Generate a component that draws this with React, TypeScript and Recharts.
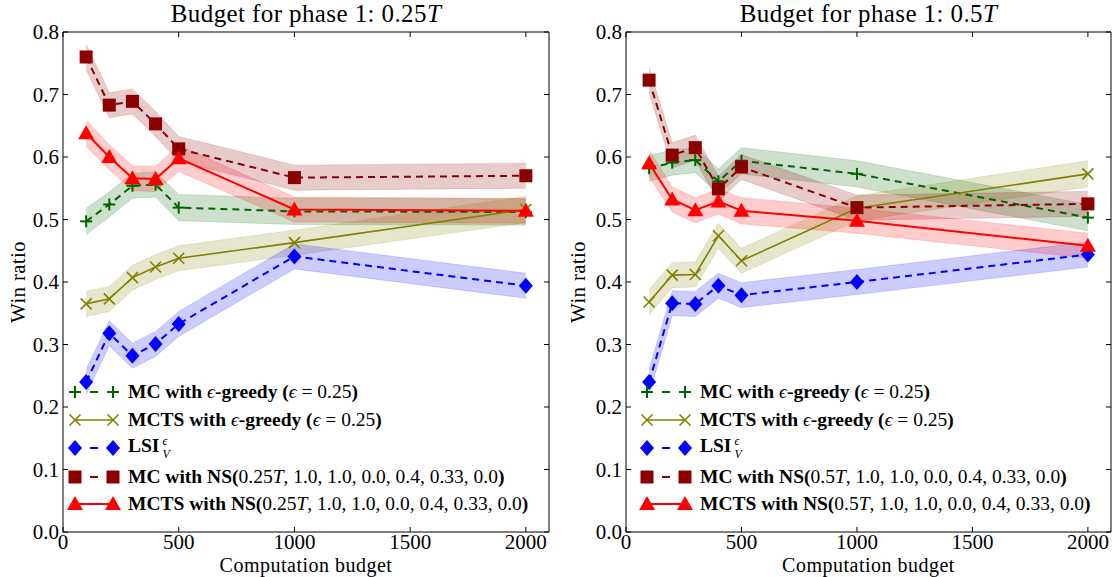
import React from "react";
import { ComposedChart, Line, Area, XAxis, YAxis } from "recharts";

const budget = [100, 200, 300, 400, 500, 1000, 2000];
const xTicks = [0, 500, 1000, 1500, 2000];
const yTicks = [0, 0.1, 0.2, 0.3, 0.4, 0.5, 0.6, 0.7, 0.8];

// phase 1 budget 0.25T
const mcEpsL = [0.497, 0.524, 0.554, 0.556, 0.519, 0.513, 0.512];
const mctsEpsL = [0.365, 0.373, 0.407, 0.424, 0.438, 0.463, 0.516];
const lsiL = [0.24, 0.318, 0.282, 0.301, 0.333, 0.441, 0.394];
const mcNsL = [0.76, 0.683, 0.689, 0.653, 0.613, 0.567, 0.57];
const mctsNsL = [0.638, 0.6, 0.566, 0.565, 0.598, 0.516, 0.514];

// phase 1 budget 0.5T
const mcEpsR = [0.582, 0.591, 0.595, 0.561, 0.594, 0.573, 0.503];
const mctsEpsR = [0.368, 0.411, 0.412, 0.474, 0.434, 0.518, 0.573];
const lsiR = [0.24, 0.366, 0.365, 0.394, 0.379, 0.4, 0.444];
const mcNsR = [0.723, 0.603, 0.615, 0.549, 0.584, 0.519, 0.525];
const mctsNsR = [0.59, 0.532, 0.515, 0.529, 0.514, 0.498, 0.458];

// half width of the shaded bands
const errMcEps = [0.021, 0.02, 0.02, 0.02, 0.021, 0.021, 0.021];
const errMctsEps = [0.02, 0.02, 0.02, 0.02, 0.02, 0.02, 0.021];
const errLsi = [0.02, 0.02, 0.02, 0.02, 0.02, 0.02, 0.02];
const errMcNs = [0.02, 0.02, 0.02, 0.02, 0.02, 0.02, 0.02];
const errMctsNs = [0.021, 0.02, 0.02, 0.02, 0.021, 0.02, 0.02];

const FONT = '"Liberation Serif", "DejaVu Serif", serif';

const series = [
  { key: "mcEps", color: "#006400", dash: "7 5", width: 2, marker: "plus", err: errMcEps },
  { key: "mctsEps", color: "#808000", dash: undefined, width: 1.6, marker: "x", err: errMctsEps },
  { key: "lsi", color: "#0000ff", dash: "7 5", width: 2, marker: "diamond", err: errLsi },
  { key: "mcNs", color: "#8b0000", dash: "7 5", width: 2, marker: "square", err: errMcNs },
  { key: "mctsNs", color: "#ff0000", dash: undefined, width: 2, marker: "triangle", err: errMctsNs },
];

function Marker({ type, cx, cy, color }: any) {
  if (cx == null || cy == null) return null;
  switch (type) {
    case "plus":
      return (
        <g stroke={color} strokeWidth={2}>
          <line x1={cx - 6} x2={cx + 6} y1={cy} y2={cy} />
          <line x1={cx} x2={cx} y1={cy - 6} y2={cy + 6} />
        </g>
      );
    case "x":
      return (
        <g stroke={color} strokeWidth={1.6}>
          <line x1={cx - 5.5} x2={cx + 5.5} y1={cy - 5.5} y2={cy + 5.5} />
          <line x1={cx - 5.5} x2={cx + 5.5} y1={cy + 5.5} y2={cy - 5.5} />
        </g>
      );
    case "diamond":
      return <polygon points={`${cx},${cy - 8} ${cx + 7},${cy} ${cx},${cy + 8} ${cx - 7},${cy}`} fill={color} />;
    case "square":
      return <rect x={cx - 6.5} y={cy - 6.5} width={13} height={13} fill={color} />;
    default:
      return <polygon points={`${cx},${cy - 8} ${cx + 8},${cy + 6} ${cx - 8},${cy + 6}`} fill={color} />;
  }
}

const BottomTick = ({ x, y, payload }: any) => (
  <g>
    <line x1={x} x2={x} y1={y} y2={y - 5} stroke="#000" />
    <text x={x} y={y + 17} textAnchor="middle" fontSize={21} fontFamily={FONT} fill="#000">
      {payload.value}
    </text>
  </g>
);
const TopTick = ({ x, y }: any) => <line x1={x} x2={x} y1={y} y2={y + 5} stroke="#000" />;
const LeftTick = ({ x, y, payload }: any) => (
  <g>
    <line x1={x} x2={x + 5} y1={y} y2={y} stroke="#000" />
    <text x={x - 4} y={y + 7} textAnchor="end" fontSize={21} fontFamily={FONT} fill="#000">
      {payload.value.toFixed(1)}
    </text>
  </g>
);
const RightTick = ({ x, y }: any) => <line x1={x} x2={x - 5} y1={y} y2={y} stroke="#000" />;

const Eps = () => <i style={{ fontWeight: "normal" }}>ϵ</i>;

function LegendRow({ s, top, left, children }: any) {
  return (
    <div style={{ position: "absolute", left, top: top - 14, height: 28, display: "flex", alignItems: "center", whiteSpace: "nowrap" }}>
      <svg width={52} height={28} style={{ overflow: "visible" }}>
        {s.dash ? (
          <line x1={22} x2={30} y1={14} y2={14} stroke={s.color} strokeWidth={s.width} />
        ) : (
          <line x1={7} x2={45} y1={14} y2={14} stroke={s.color} strokeWidth={s.width} />
        )}
        <Marker type={s.marker} cx={7} cy={14} color={s.color} />
        <Marker type={s.marker} cx={45} cy={14} color={s.color} />
      </svg>
      <span style={{ marginLeft: 8, fontSize: 19.5, fontWeight: "bold", fontFamily: FONT }}>{children}</span>
    </div>
  );
}

function Panel({ left, width, yAxisW, rightW, vals, frac, legendLeft }: any) {
  const data = budget.map((b, i) => {
    const row: any = { b };
    series.forEach((s, k) => {
      const v = vals[k][i];
      row[s.key] = v;
      row[s.key + "Band"] = [v - s.err[i], v + s.err[i]];
    });
    return row;
  });
  const plotLeft = left + yAxisW;
  const plotW = width - yAxisW - rightW;
  const cx = plotLeft + plotW / 2;
  const nsArgs = (
    <span style={{ fontWeight: "normal" }}>
      {frac}
      <i>T</i>, 1.0, 1.0, 0.0, 0.4, 0.33, 0.0
    </span>
  );
  const epsArgs = (
    <span style={{ fontWeight: "normal" }}>
      <i>ϵ</i> = 0.25
    </span>
  );
  return (
    <>
      <div style={{ position: "absolute", left, top: 0 }}>
        <ComposedChart width={width} height={577} data={data} margin={{ top: 0, right: 0, bottom: 0, left: 0 }}>
          <XAxis dataKey="b" type="number" domain={[0, 2100]} ticks={xTicks} allowDataOverflow height={45} tickSize={0} tickMargin={0} tick={<BottomTick />} axisLine={{ stroke: "#000" }} tickLine={false} interval={0} />
          <XAxis xAxisId="top" orientation="top" dataKey="b" type="number" domain={[0, 2100]} ticks={xTicks} allowDataOverflow height={32} tickSize={0} tickMargin={0} tick={<TopTick />} axisLine={{ stroke: "#000" }} tickLine={false} interval={0} />
          <YAxis type="number" domain={[0, 0.8]} ticks={yTicks} allowDataOverflow width={yAxisW} tickSize={0} tickMargin={0} tick={<LeftTick />} axisLine={{ stroke: "#000" }} tickLine={false} interval={0} />
          <YAxis yAxisId="right" orientation="right" type="number" domain={[0, 0.8]} ticks={yTicks} allowDataOverflow width={rightW} tickSize={0} tickMargin={0} tick={<RightTick />} axisLine={{ stroke: "#000" }} tickLine={false} interval={0} />
          {series.map((s) => [
            <Area
              key={s.key + "Band"}
              dataKey={s.key + "Band"}
              type="linear"
              fill={s.color}
              fillOpacity={0.2}
              stroke={s.color}
              strokeOpacity={0.15}
              strokeWidth={1}
              dot={false}
              activeDot={false}
              isAnimationActive={false}
            />,
            <Line
              key={s.key}
              dataKey={s.key}
              type="linear"
              stroke={s.color}
              strokeWidth={s.width}
              strokeDasharray={s.dash}
              dot={(p: any) => <Marker key={p.index} type={s.marker} cx={p.cx} cy={p.cy} color={s.color} />}
              activeDot={false}
              isAnimationActive={false}
            />,
          ])}
        </ComposedChart>
      </div>
      <div style={{ position: "absolute", left: cx - 200, width: 400, top: 0, textAlign: "center", fontSize: 25, letterSpacing: 0.4, fontFamily: FONT, whiteSpace: "nowrap" }}>
        Budget for phase 1: {frac}
        <i>T</i>
      </div>
      <div style={{ position: "absolute", left: cx - 150, width: 300, top: 555, textAlign: "center", fontSize: 20, lineHeight: "20px", letterSpacing: 0.5, fontFamily: FONT }}>
        Computation budget
      </div>
      <div style={{ position: "absolute", left: left + 18 - 60, top: 282 - 13, width: 120, textAlign: "center", fontSize: 21, letterSpacing: 0.3, fontFamily: FONT, transform: "rotate(-90deg)", lineHeight: "26px" }}>
        Win ratio
      </div>
      <LegendRow s={series[0]} top={392} left={legendLeft}>
        MC with <Eps />-greedy ({epsArgs})
      </LegendRow>
      <LegendRow s={series[1]} top={420} left={legendLeft}>
        MCTS with <Eps />-greedy ({epsArgs})
      </LegendRow>
      <LegendRow s={series[2]} top={448} left={legendLeft}>
        LSI
        <span style={{ display: "inline-flex", flexDirection: "column", fontSize: 12, lineHeight: "13px", verticalAlign: "middle", fontWeight: "normal", marginLeft: 3 }}>
          <i>ϵ</i>
          <i>V</i>
        </span>
      </LegendRow>
      <LegendRow s={series[3]} top={477} left={legendLeft}>
        MC with NS({nsArgs})
      </LegendRow>
      <LegendRow s={series[4]} top={504} left={legendLeft}>
        MCTS with NS({nsArgs})
      </LegendRow>
    </>
  );
}

export default function App() {
  return (
    <div style={{ position: "absolute", left: 0, top: 0, width: 1112, height: 577, background: "#fff", overflow: "hidden" }}>
      <Panel left={0} width={560} yAxisW={63} rightW={11} vals={[mcEpsL, mctsEpsL, lsiL, mcNsL, mctsNsL]} frac="0.25" legendLeft={68} />
      <Panel left={560} width={552} yAxisW={66} rightW={1} vals={[mcEpsR, mctsEpsR, lsiR, mcNsR, mctsNsR]} frac="0.5" legendLeft={640} />
    </div>
  );
}
